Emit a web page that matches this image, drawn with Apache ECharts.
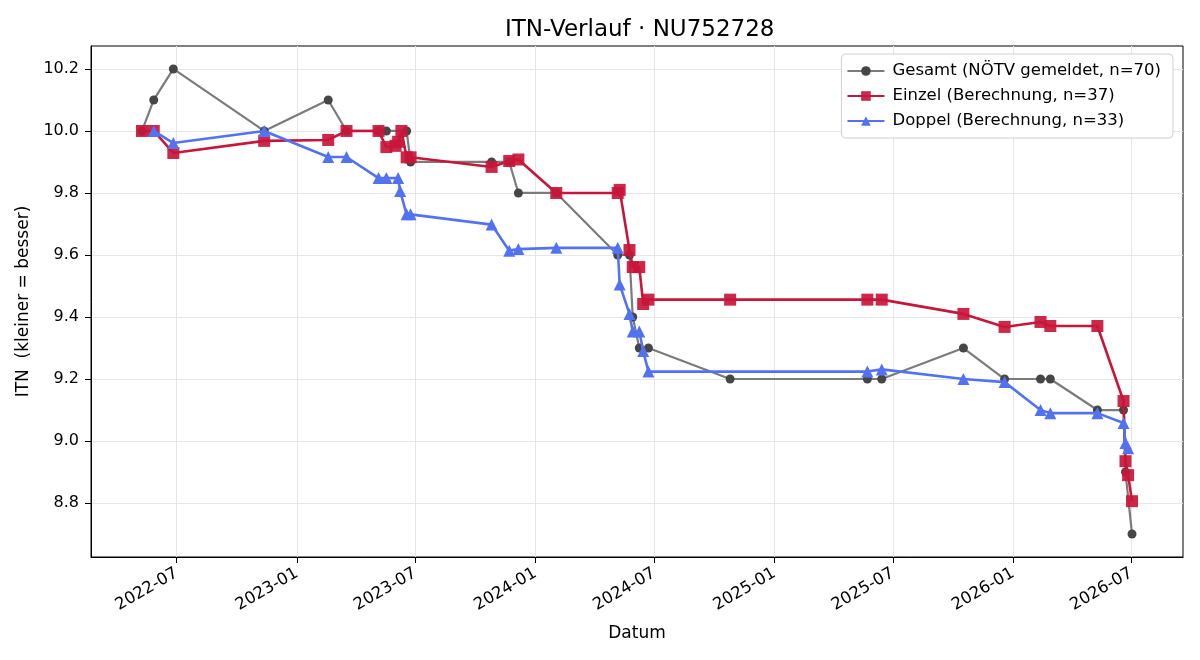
<!DOCTYPE html>
<html>
<head>
<meta charset="utf-8">
<title>ITN-Verlauf</title>
<script src="https://cdn.jsdelivr.net/npm/echarts@6/dist/echarts.min.js"></script>
<style>
  html, body { margin: 0; padding: 0; background: #fff; }
  #itnChart { width: 1200px; height: 660px; }
</style>
</head>
<body>
<div id="itnChart"></div>
<script>
// Gesamt (NÖTV gemeldet)
var gesamtDates = ['2022-05-09','2022-05-27','2022-06-26','2022-11-12','2023-02-18','2023-03-18','2023-05-06','2023-05-18',
                   '2023-06-18','2023-06-24','2023-10-26','2023-11-22','2023-12-06','2024-02-02','2024-05-06','2024-05-24',
                   '2024-05-29','2024-06-08','2024-06-22','2024-10-25','2025-05-23','2025-06-14','2025-10-17','2025-12-19',
                   '2026-02-12','2026-02-27','2026-05-10','2026-06-19','2026-06-22','2026-07-02'];
var gesamtValues = [10.0,10.1,10.2,10.0,10.1,10.0,10.0,10.0,
                    10.0,9.9,9.9,9.9,9.8,9.8,9.6,9.6,
                    9.4,9.3,9.3,9.2,9.2,9.2,9.3,9.2,
                    9.2,9.2,9.1,9.1,8.9,8.7];
// Einzel (Berechnung)
var einzelDates = ['2022-05-09','2022-05-27','2022-06-26','2022-11-12','2023-02-18','2023-03-18','2023-05-06','2023-05-18',
                   '2023-06-01','2023-06-05','2023-06-10','2023-06-18','2023-06-24','2023-10-26','2023-11-22','2023-12-06',
                   '2024-02-02','2024-05-06','2024-05-09','2024-05-24','2024-05-29','2024-06-08','2024-06-14','2024-06-22',
                   '2024-10-25','2025-05-23','2025-06-14','2025-10-17','2025-12-19','2026-02-12','2026-02-27','2026-05-10',
                   '2026-06-19','2026-06-22','2026-06-26','2026-07-02'];
var einzelValues = [10.0,10.0,9.929,9.968,9.971,10.0,10.0,9.948,
                    9.952,9.965,10.0,9.915,9.915,9.884,9.903,9.908,
                    9.8,9.8,9.81,9.616,9.561,9.561,9.442,9.456,
                    9.456,9.456,9.456,9.41,9.368,9.384,9.371,9.371,
                    9.129,8.935,8.89,8.806];
// Doppel (Berechnung)
var doppelDates = ['2022-05-27','2022-06-26','2022-11-12','2023-02-18','2023-03-18','2023-05-06','2023-05-18','2023-06-05',
                   '2023-06-08','2023-06-18','2023-06-24','2023-10-26','2023-11-22','2023-12-06','2024-02-02','2024-05-06',
                   '2024-05-09','2024-05-24','2024-05-29','2024-06-08','2024-06-14','2024-06-22','2025-05-23','2025-06-14',
                   '2025-10-17','2025-12-19','2026-02-12','2026-02-27','2026-05-10','2026-06-19','2026-06-22','2026-06-26'];
var doppelValues = [10.0,9.961,10.0,9.916,9.916,9.848,9.848,9.848,
                    9.806,9.731,9.731,9.698,9.614,9.619,9.623,9.623,
                    9.505,9.41,9.353,9.353,9.29,9.224,9.224,9.231,
                    9.2,9.19,9.1,9.09,9.09,9.058,8.994,8.977];

var xTicks = ['2022-07','2023-01','2023-07','2024-01','2024-07','2025-01','2025-07','2026-01','2026-07'];
var yTicks = [8.8, 9.0, 9.2, 9.4, 9.6, 9.8, 10.0, 10.2];

var fontFam = 'DejaVu Sans';

function toTime(s) {
	return echarts.number.parseDate(s).getTime();
}
function pairs(dates, values) {
	var out = [];
	for (var i = 0; i < dates.length; i++) {
		out.push([toTime(dates[i]), values[i]]);
	}
	return out;
}
function pad2(n) {
	return n < 10 ? '0' + n : '' + n;
}
var xTickTimes = xTicks.map(function (t) { return toTime(t + '-01'); });

var itnChart = echarts.init(document.getElementById('itnChart'));
var itnOption = {
	animation: false,
	textStyle: { fontFamily: fontFam },
	// Titel über der Plotfläche zentriert
	title: {
		text: 'ITN-Verlauf · NU752728',
		left: 500,
		top: 14,
		textStyle: { color: '#000', fontSize: 23, fontWeight: 'normal', fontFamily: fontFam }
	},
	legend: {
		orient: 'vertical',
		right: 27,
		top: 54,
		padding: [8, 12, 8, 5],
		itemGap: 7,
		itemWidth: 37,
		itemHeight: 12,
		backgroundColor: '#fff',
		borderColor: '#d0d0d0',
		borderWidth: 1,
		borderRadius: 4,
		textStyle: { color: '#000', fontSize: 16.5, lineHeight: 18, fontFamily: fontFam, padding: [0, 0, 0, 3] },
		data: ['Gesamt (NÖTV gemeldet, n=70)', 'Einzel (Berechnung, n=37)', 'Doppel (Berechnung, n=33)']
	},
	grid: {
		left: 91,
		right: 17,
		top: 46,
		bottom: 103,
		show: true,
		borderColor: '#000',
		borderWidth: 1
	},
	xAxis: {
		type: 'value',
		min: toTime('2022-02-20'),
		max: toTime('2026-09-18'),
		name: 'Datum',
		nameLocation: 'middle',
		nameGap: 68,
		nameTextStyle: { color: '#000', fontSize: 17, fontFamily: fontFam },
		axisLine: { show: true, lineStyle: { color: '#000', width: 1 } },
		axisTick: {
			show: true,
			length: 6,
			lineStyle: { color: '#000' },
			customValues: xTickTimes
		},
		axisLabel: {
			rotate: 30,
			margin: 15,
			color: '#000',
			fontSize: 16.5,
			fontFamily: fontFam,
			customValues: xTickTimes,
			formatter: function (v) {
				var d = new Date(v);
				return d.getFullYear() + '-' + pad2(d.getMonth() + 1);
			}
		},
		splitLine: { show: true, lineStyle: { color: '#e6e6e6', width: 1 } }
	},
	yAxis: {
		type: 'value',
		min: 8.626,
		max: 10.274,
		name: 'ITN  (kleiner = besser)',
		nameLocation: 'middle',
		nameGap: 57,
		nameTextStyle: { color: '#000', fontSize: 17, fontFamily: fontFam },
		axisLine: { show: true, lineStyle: { color: '#000', width: 1 } },
		axisTick: { show: true, length: 6, lineStyle: { color: '#000' }, customValues: yTicks },
		axisLabel: {
			margin: 12,
			color: '#000',
			fontSize: 16,
			fontFamily: fontFam,
			customValues: yTicks,
			formatter: function (v) { return v.toFixed(1); }
		},
		splitLine: { show: true, lineStyle: { color: '#e6e6e6', width: 1 } }
	},
	series: [
		{
			name: 'Gesamt (NÖTV gemeldet, n=70)',
			type: 'line',
			data: pairs(gesamtDates, gesamtValues),
			symbol: 'circle',
			symbolSize: 9,
			lineStyle: { color: '#7b7b7b', width: 2.2 },
			itemStyle: { color: '#464646' },
			z: 2
		},
		{
			name: 'Einzel (Berechnung, n=37)',
			type: 'line',
			data: pairs(einzelDates, einzelValues),
			symbol: 'rect',
			symbolSize: 12,
			lineStyle: { color: '#c8163a', width: 2.6 },
			itemStyle: { color: '#c8163a', opacity: 0.92 },
			z: 3
		},
		{
			name: 'Doppel (Berechnung, n=33)',
			type: 'line',
			data: pairs(doppelDates, doppelValues),
			symbol: 'triangle',
			symbolSize: 12,
			lineStyle: { color: '#5272f2', width: 2.6 },
			itemStyle: { color: '#5272f2' },
			z: 4
		}
	]
};
itnChart.setOption(itnOption);
</script>
</body>
</html>
